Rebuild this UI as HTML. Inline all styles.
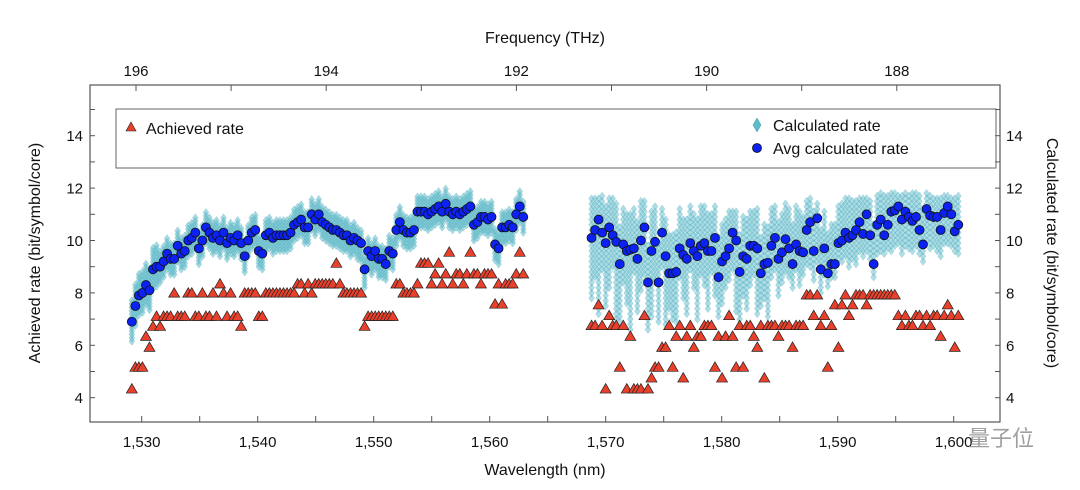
<!DOCTYPE html>
<html><head><meta charset="utf-8"><style>
body{margin:0;background:#fff}
svg{display:block;font-family:"Liberation Sans",Arial,sans-serif}
</style></head><body>
<svg id="chart" width="1080" height="490" viewBox="0 0 1080 490">
<rect x="0" y="0" width="1080" height="490" fill="#fff"/>
<g id="cloud"></g>
<g id="tris"></g>
<g id="dots"></g>
<rect x="90" y="85" width="910" height="337" fill="none" stroke="#555" stroke-width="1.2"/>
<g id="axes"></g>
<rect x="116" y="109" width="880" height="59" fill="none" stroke="#666" stroke-width="1"/>
<g>
<polygon points="131,122 136,131 126,131" fill="#e8402a" stroke="#222" stroke-width="0.6"/>
<text x="146" y="134" font-size="16" fill="#111">Achieved rate</text></g>
<g>
<polygon points="757,118 761,125 757,132 753,125" fill="#5fbccb" stroke="#3a98a8" stroke-width="0.5"/>
<text x="773" y="131" font-size="16" fill="#111">Calculated rate</text></g>
<g>
<circle cx="757" cy="148" r="4.5" fill="#0b22f2" stroke="#111" stroke-width="0.8"/>
<text x="773" y="154" font-size="16" fill="#111">Avg calculated rate</text></g>
<text x="545" y="43" font-size="16" text-anchor="middle" fill="#111">Frequency (THz)</text>
<text x="545" y="475" font-size="16" text-anchor="middle" fill="#111">Wavelength (nm)</text>
<text transform="translate(40,253) rotate(-90)" font-size="16" text-anchor="middle" fill="#111">Achieved rate (bit/symbol/core)</text>
<text transform="translate(1047,253) rotate(90)" font-size="16" text-anchor="middle" fill="#111">Calculated rate (bit/symbol/core)</text>
<text x="968" y="446" font-size="22" fill="#888" opacity="0.8" font-family="'Liberation Sans','Noto Sans CJK SC',sans-serif">量子位</text>
</svg>
<script>
const leftStart = 1529.15, rightStart = 1568.78, chStep = 0.304;
const avgLeft = [6.9,7.5,7.9,8.0,8.3,8.1,8.9,9.0,9.0,9.2,9.5,9.3,9.3,9.8,9.5,9.6,10.0,10.1,10.3,9.7,10.0,10.5,10.3,10.1,10.2,10.0,10.3,9.9,10.1,10.0,10.2,9.9,9.4,10.0,10.3,10.4,9.6,9.5,10.2,10.3,10.1,10.2,10.2,10.2,10.2,10.3,10.6,10.7,10.8,10.5,10.5,11.0,10.8,11.0,10.7,10.6,10.5,10.4,10.4,10.3,10.2,10.2,10.0,10.1,10.0,9.9,8.9,9.6,9.4,9.6,9.3,9.3,9.1,9.6,9.5,10.4,10.7,10.4,10.3,10.3,10.4,11.1,11.1,11.1,11.0,11.1,11.2,11.3,11.1,11.4,11.1,11.0,11.1,11.0,11.1,11.2,11.3,10.6,10.7,10.9,10.9,10.8,10.9,9.85,9.7,10.5,10.5,10.6,10.5,11.0,11.3,10.9];
const avgRight = [10.1,10.4,10.8,10.3,9.9,10.5,10.2,9.95,9.1,9.85,9.6,9.65,9.7,9.3,10.0,10.5,8.4,9.6,9.95,8.4,10.3,9.4,8.75,8.75,8.8,9.7,9.45,9.3,9.9,9.6,9.4,9.8,9.9,9.6,9.6,10.1,8.6,9.2,9.4,9.7,10.3,10.0,8.8,9.4,9.3,9.8,9.8,9.7,8.75,9.1,9.15,9.8,10.1,9.3,9.55,10.05,9.7,9.1,9.85,9.6,9.55,10.4,10.7,9.6,10.85,8.9,9.7,8.75,9.1,9.1,9.9,10.0,10.3,10.1,10.2,10.4,10.7,10.25,11.0,10.2,9.1,10.6,10.8,10.2,10.6,11.1,11.15,11.3,10.8,11.1,10.9,10.75,10.9,10.4,9.85,11.2,10.95,10.9,10.9,10.4,11.05,11.3,11.0,10.35,10.6];
const achLeft = [4.33,5.16,5.16,5.16,6.34,5.92,6.72,7.1,6.72,7.1,7.1,7.1,7.99,7.1,7.1,7.1,7.99,7.99,7.1,7.1,7.99,7.1,7.1,7.99,7.1,8.34,7.99,7.1,7.99,7.1,7.1,6.72,7.99,7.99,7.99,7.99,7.1,7.1,7.99,7.99,7.99,7.99,7.99,7.99,7.99,7.99,7.99,8.34,8.34,7.99,8.34,7.99,8.34,8.34,8.34,8.34,8.34,8.34,9.13,8.34,7.99,7.99,7.99,7.99,7.99,7.99,6.72,7.1,7.1,7.1,7.1,7.1,7.1,7.1,7.1,8.34,8.34,7.99,7.99,7.99,7.99,8.34,9.13,9.13,9.13,8.34,8.72,9.13,8.34,8.72,9.55,8.34,8.72,8.72,8.34,8.72,9.55,8.72,8.72,8.34,8.72,8.72,8.72,7.57,8.34,7.57,8.34,8.34,8.34,8.72,9.55,8.72];
const achRight = [6.75,6.75,7.54,6.75,4.33,7.13,6.75,6.75,5.16,6.75,4.33,6.34,4.33,4.33,4.33,7.13,4.33,4.75,5.16,5.16,5.92,5.92,6.75,5.16,6.34,6.75,4.75,6.34,6.75,5.92,6.34,6.34,6.75,6.75,6.75,5.16,6.34,4.75,6.34,7.13,6.34,5.16,6.75,5.16,6.75,6.75,6.34,5.92,6.75,4.75,6.75,6.75,6.75,6.34,6.75,6.75,6.75,5.92,6.75,6.75,6.75,7.92,7.92,7.13,7.92,6.75,7.13,5.16,6.75,7.54,5.92,7.54,7.92,7.13,7.54,7.92,7.92,7.92,7.54,7.92,7.92,7.92,7.92,7.92,7.92,7.92,7.92,7.13,6.75,7.13,6.75,6.75,7.13,7.13,6.75,7.13,6.75,7.13,7.13,6.34,7.13,7.54,7.13,5.92,7.13];
// calculated-rate spread: left band offsets per 8-channel segment [down, up]
const calcDownLeft = [0.75,0.6,0.6,0.6,0.6,0.6,0.6,0.6,0.7,0.6,0.6,0.6,0.6,0.6];
const calcUpLeft = [0.9,0.7,0.6,0.6,0.6,0.6,0.6,0.6,0.6,0.7,0.6,0.6,0.6,0.6];
// right band: per-channel lowest calculated value, per-segment highest
const calcLowRight = [7.8,8.6,7.2,8.9,7.5,8.2,9.0,7.0,6.9,8.4,7.6,6.6,8.8,7.3,8.1,8.7,6.6,7.1,8.5,6.9,9.0,6.8,7.4,7.0,6.9,8.6,7.8,7.2,8.9,8.2,7.0,8.7,8.3,7.4,8.8,7.9,7.1,7.6,8.2,8.5,8.9,7.3,7.0,7.9,7.4,8.3,8.7,7.2,7.5,7.8,7.1,8.6,8.9,7.9,8.4,8.8,8.6,8.2,8.9,8.3,8.7,9.1,9.0,8.5,9.2,8.0,8.7,8.6,8.9,8.8,9.3,9.2,9.4,9.0,9.3,9.1,9.6,9.4,9.6,9.3,8.7,9.5,9.6,9.5,9.7,9.6,9.8,9.9,9.5,9.8,9.7,9.6,9.8,9.5,9.2,10.0,9.7,9.8,9.6,9.4,9.9,9.9,9.8,9.6,9.5];
const calcHighRight = [11.7,11.5,11.3,11.4,11.3,11.2,11.4,11.6,11.4,11.6,11.8,11.8,11.7,11.7];
const yTicks = ["4","6","8","10","12","14"];
const xTicks = ["1,530","1,540","1,550","1,560","1,570","1,580","1,590","1,600"];
const fTicks = ["196","194","192","190","188"];

const NS = "http://www.w3.org/2000/svg";
const xS = l => 141.7 + (l - 1530) * 11.6;
const yS = v => 397.7 - (v - 4) * 26.2;
const fS = f => 136 + (196 - f) * 95.1;
function mk(tag, attrs, parent){const e=document.createElementNS(NS,tag);for(const k in attrs)e.setAttribute(k,attrs[k]);parent.appendChild(e);return e;}
const cloud=document.getElementById('cloud'), tris=document.getElementById('tris'), dots=document.getElementById('dots'), axes=document.getElementById('axes');

function diamonds(l, lo, hi, stepV, op){
  const x=xS(l);
  for(let v=lo; v<=hi; v+=stepV){
    const y=yS(v);
    const d=mk('polygon',{points:`${x},${y-4} ${x+3},${y} ${x},${y+4} ${x-3},${y}`,fill:'#5fbccb','fill-opacity':op,stroke:'#3f9fb0','stroke-opacity':'0.35','stroke-width':'0.5'},cloud);
    
    
  }
}
avgLeft.forEach((v,i)=>{const s=Math.floor(i/8);diamonds(leftStart+i*chStep, v-calcDownLeft[s], v+calcUpLeft[s], 0.13, 0.55);});
avgRight.forEach((v,i)=>{const s=Math.min(13,Math.floor(i/8));
  const lo=Math.min(calcLowRight[i], v-0.5);
  const hi=Math.max(Math.min(calcHighRight[s], v+1.5), v+0.5);
  diamonds(rightStart+i*chStep, lo, hi, 0.2, 0.5);});

function tri(l,v){
  const x=xS(l), y=yS(v);
  const t=mk('polygon',{points:`${x},${y-5.5} ${x+5.5},${y+4} ${x-5.5},${y+4}`,fill:'#e8402a',stroke:'#222','stroke-width':'0.7'},tris);
  
  
}
achLeft.forEach((v,i)=>tri(leftStart+i*chStep,v));
achRight.forEach((v,i)=>tri(rightStart+i*chStep,v));

function dot(l,v){
  const c=mk('circle',{cx:xS(l),cy:yS(v),r:4.5,fill:'#0b22f2',stroke:'#111','stroke-width':'0.8'},dots);
  
  
}
avgLeft.forEach((v,i)=>dot(leftStart+i*chStep,v));
avgRight.forEach((v,i)=>dot(rightStart+i*chStep,v));

for(let v=4; v<=15; v++){
  const y=yS(v);
  mk('line',{x1:90,y1:y,x2:95,y2:y,stroke:'#555'},axes);
  mk('line',{x1:995,y1:y,x2:1000,y2:y,stroke:'#555'},axes);
}
yTicks.forEach(t=>{
  const y=yS(parseFloat(t));
  const a=mk('text',{x:83,y:y+5.5,'font-size':15,'text-anchor':'end',fill:'#111'},axes); a.textContent=t;
  
  
  const b=mk('text',{x:1006,y:y+5.5,'font-size':15,fill:'#111'},axes); b.textContent=t;
  
  
});
for(let l=1530; l<=1600; l+=5){const x=xS(l);mk('line',{x1:x,y1:422,x2:x,y2:416,stroke:'#555'},axes);}
xTicks.forEach(t=>{
  const x=xS(parseFloat(t.replace(',','')));
  const a=mk('text',{x:x,y:447,'font-size':15,'text-anchor':'middle',fill:'#111'},axes); a.textContent=t;
  
  
});
for(let f=196; f>=187.5; f-=1){const x=fS(f);mk('line',{x1:x,y1:85,x2:x,y2:91,stroke:'#555'},axes);}
fTicks.forEach(t=>{
  const x=fS(parseFloat(t));
  const a=mk('text',{x:x,y:76,'font-size':15,'text-anchor':'middle',fill:'#111'},axes); a.textContent=t;
  
  
});
</script>
</body></html>
